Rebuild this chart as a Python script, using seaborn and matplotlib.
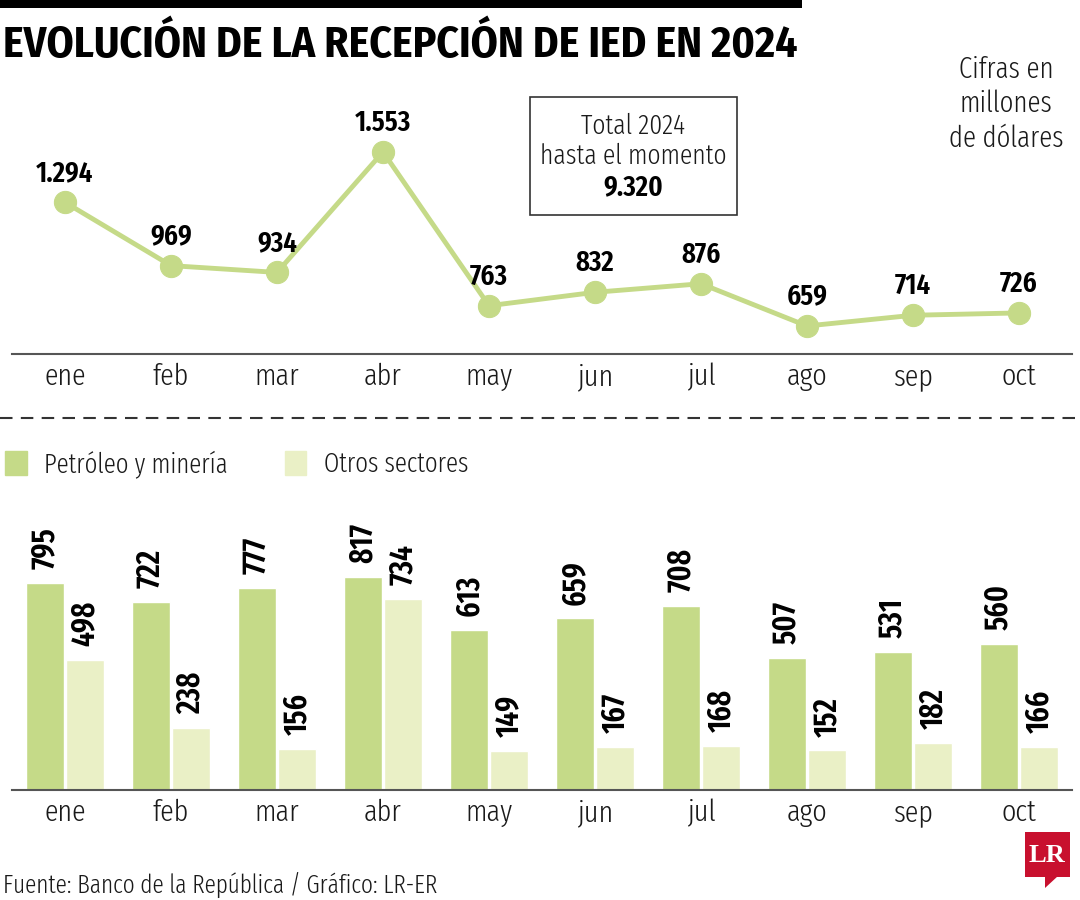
import numpy as np
import pandas as pd
import matplotlib
matplotlib.use("Agg")
import matplotlib.pyplot as plt
import seaborn as sns
from matplotlib.patches import Rectangle, Polygon
from matplotlib.lines import Line2D

# data
meses = ["ene", "feb", "mar", "abr", "may", "jun", "jul", "ago", "sep", "oct"]
total_ied = [1294, 969, 934, 1553, 763, 832, 876, 659, 714, 726]
petroleo_mineria = [795, 722, 777, 817, 613, 659, 708, 507, 531, 560]
otros_sectores = [498, 238, 156, 734, 149, 167, 168, 152, 182, 166]
series_names = ["Petróleo y minería", "Otros sectores"]

verde = "#c5da88"
verde_claro = "#eaf0c6"
gris = "#555555"
texto = "#1a1a1a"

sns.set_theme(style="white")
plt.rcParams["font.family"] = ["Fira Sans Extra Condensed", "DejaVu Sans"]
plt.rcParams["font.weight"] = 300
LIGHT = 300
BOLD = 600

W, H = 1080, 900
fig = plt.figure(figsize=(10.8, 9), dpi=100)


def fx(px):
    return px / W


def fy(py):
    return 1 - py / H


# ---- top line chart ----
ax1 = fig.add_axes([fx(12), fy(354), fx(1060), (354 - 120) / H])
df_line = pd.DataFrame({"mes": meses, "valor": total_ied})
sns.lineplot(data=df_line, x="mes", y="valor", ax=ax1, color=verde, lw=3.5,
             marker="o", markersize=16, markeredgecolor=verde, sort=False)
ax1.set_xlim(-0.5, 9.5)
ax1.set_ylim(515, 1717)
for i, v in enumerate(total_ied):
    txt = f"{v:,}".replace(",", ".")
    ax1.annotate(txt, (i, v), xytext=(0, 11), textcoords="offset points",
                 ha="center", va="bottom", fontsize=21, fontweight=BOLD,
                 color="black", annotation_clip=False)

# ---- bottom bar chart ----
ax2 = fig.add_axes([fx(12), fy(790), fx(1060), (790 - 500) / H])
df_bar = pd.DataFrame({
    "mes": meses * 2,
    "valor": petroleo_mineria + otros_sectores,
    "sector": [series_names[0]] * len(meses) + [series_names[1]] * len(meses),
})
sns.barplot(data=df_bar, x="mes", y="valor", hue="sector", ax=ax2,
            palette=[verde, verde_claro], width=0.76, gap=0.06,
            saturation=1, legend=False)
ax2.set_xlim(-0.5, 9.5)
ax2.set_ylim(0, 290 / 0.2604)
for cont in ax2.containers:
    ax2.bar_label(cont, rotation=90, padding=10, fontsize=23,
                  fontweight=BOLD, color="black")

for ax in (ax1, ax2):
    for s in ["top", "right", "left"]:
        ax.spines[s].set_visible(False)
    ax.spines["bottom"].set_color(gris)
    ax.spines["bottom"].set_linewidth(1.5)
    ax.set_yticks([])
    ax.set_xlabel("")
    ax.set_ylabel("")
    ax.set_xticks(range(len(meses)))
    ax.set_xticklabels(meses, fontsize=22, color=texto, fontweight=LIGHT)
    ax.tick_params(axis="x", which="major", length=0, pad=6)
    ax.set_xticks(np.arange(-0.5, 10, 1), minor=True)
    ax.tick_params(axis="x", which="minor", direction="in", length=9,
                   width=1.2, color=gris)
    ax.set_facecolor("none")
    ax.grid(False)

# legend
handles = [Rectangle((0, 0), 1, 1, color=verde), Rectangle((0, 0), 1, 1, color=verde_claro)]
fig.legend(handles, series_names, loc="center left",
           bbox_to_anchor=(fx(5), fy(464)), ncol=2, frameon=False, borderpad=0,
           borderaxespad=0, prop={"size": 19.5, "weight": LIGHT},
           handlelength=0.8, handleheight=0.95,
           handletextpad=0.65, columnspacing=2.1, labelcolor=texto)

# ---- decorations ----
fig.add_artist(Rectangle((0, fy(8)), fx(802), 8 / H, transform=fig.transFigure,
                         color="black", lw=0))
fig.text(fx(3), fy(46), "EVOLUCIÓN DE LA RECEPCIÓN DE IED EN 2024",
         fontsize=31.3, fontweight=700, va="center", ha="left", color="black",
         family=["Fira Sans Condensed", "DejaVu Sans"])

for t, y in zip(["Cifras en", "millones", "de dólares"], [70, 104, 139]):
    fig.text(fx(1006), fy(y), t, fontsize=21, ha="center", va="center",
             color=texto, fontweight=LIGHT)

fig.add_artist(Rectangle((fx(530), fy(215)), fx(207), (215 - 97) / H,
                         transform=fig.transFigure, fill=False,
                         edgecolor="#333333", lw=1.2))
fig.text(fx(633), fy(126), "Total 2024", fontsize=20, ha="center", va="center",
         color=texto, fontweight=LIGHT)
fig.text(fx(633), fy(156), "hasta el momento", fontsize=20, ha="center", va="center",
         color=texto, fontweight=LIGHT)
fig.text(fx(633), fy(187), "9.320", fontsize=21, fontweight=BOLD, ha="center", va="center",
         color="black")

fig.add_artist(Line2D([0, 1], [fy(418), fy(418)], transform=fig.transFigure,
                      color="#333333", lw=1.5, dashes=(6, 4)))

fig.text(fx(3), fy(885), "Fuente: Banco de la República / Gráfico: LR-ER",
         fontsize=18.3, ha="left", va="center", color=texto, fontweight=LIGHT)

# LR logo
fig.add_artist(Rectangle((fx(1025), fy(877)), fx(45), 45 / H,
                         transform=fig.transFigure, color="#c8102e", lw=0))
fig.add_artist(Polygon([[fx(1045), fy(876)], [fx(1058), fy(876)], [fx(1045), fy(888)]],
                       closed=True, transform=fig.transFigure, color="#c8102e", lw=0))
fig.text(fx(1047), fy(855), "LR", fontsize=19, fontweight="bold", color="white",
         ha="center", va="center", family="Liberation Serif")

fig.savefig("out.png", dpi=100)
